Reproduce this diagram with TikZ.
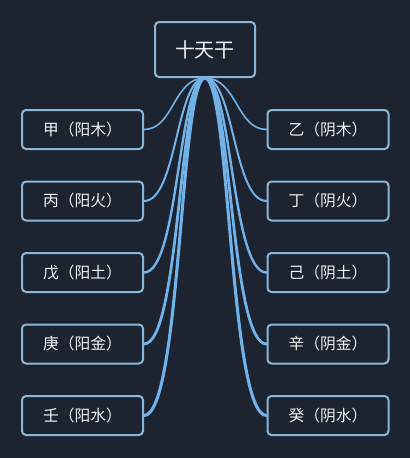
\documentclass[tikz,border=0pt]{standalone}
\usepackage{fontspec}
\newfontfamily\cjk{Noto Sans CJK SC}
\definecolor{bg}{HTML}{1E2330}
\definecolor{boxline}{HTML}{8DB6D6}
\definecolor{conn}{HTML}{72B2E6}
\definecolor{txt}{HTML}{F2F2F2}
\begin{document}
\begin{tikzpicture}[x=0.75pt,y=-0.75pt,
  box/.style={draw=boxline, line width=1.5pt, rounded corners=3pt, fill=bg,
    text=txt, font=\cjk\fontsize{11.8pt}{13pt}\selectfont,
    minimum width=90.75pt, minimum height=29.25pt, inner sep=0pt},
  rootbox/.style={box, minimum width=75pt, minimum height=41.25pt,
    font=\cjk\fontsize{15pt}{17pt}\selectfont},
  link/.style={draw=conn, line cap=round}]
\fill[bg] (0,0) rectangle (410,458);
\useasboundingbox (0,0) rectangle (410,458);
\node[rootbox] (root) at (205,49.5) {十天干};
\node[box] (l1) at (82.5,129.5) {甲（阳木）};
\node[box] (l2) at (82.5,201) {丙（阳火）};
\node[box] (l3) at (82.5,272.5) {戊（阳土）};
\node[box] (l4) at (82.5,344) {庚（阳金）};
\node[box] (l5) at (82.5,415.5) {壬（阳水）};
\node[box] (r1) at (328,129.5) {乙（阴木）};
\node[box] (r2) at (328,201) {丁（阴火）};
\node[box] (r3) at (328,272.5) {己（阴土）};
\node[box] (r4) at (328,344) {辛（阴金）};
\node[box] (r5) at (328,415.5) {癸（阴水）};
\draw[link, line width=1.2pt] (root.south) .. controls +(-32,0) and +(30,0) .. (l1.east);
\draw[link, line width=1.5pt] (root.south) .. controls +(-29,0) and +(33,0) .. (l2.east);
\draw[link, line width=1.8pt] (root.south) .. controls +(-27,0) and +(35,0) .. (l3.east);
\draw[link, line width=2.1pt] (root.south) .. controls +(-26,0) and +(36,0) .. (l4.east);
\draw[link, line width=2.3pt] (root.south) .. controls +(-25,0) and +(37,0) .. (l5.east);
\draw[link, line width=1.2pt] (root.south) .. controls +(32,0) and +(-30,0) .. (r1.west);
\draw[link, line width=1.5pt] (root.south) .. controls +(29,0) and +(-33,0) .. (r2.west);
\draw[link, line width=1.8pt] (root.south) .. controls +(27,0) and +(-35,0) .. (r3.west);
\draw[link, line width=2.1pt] (root.south) .. controls +(26,0) and +(-36,0) .. (r4.west);
\draw[link, line width=2.3pt] (root.south) .. controls +(25,0) and +(-37,0) .. (r5.west);
\end{tikzpicture}
\end{document}
